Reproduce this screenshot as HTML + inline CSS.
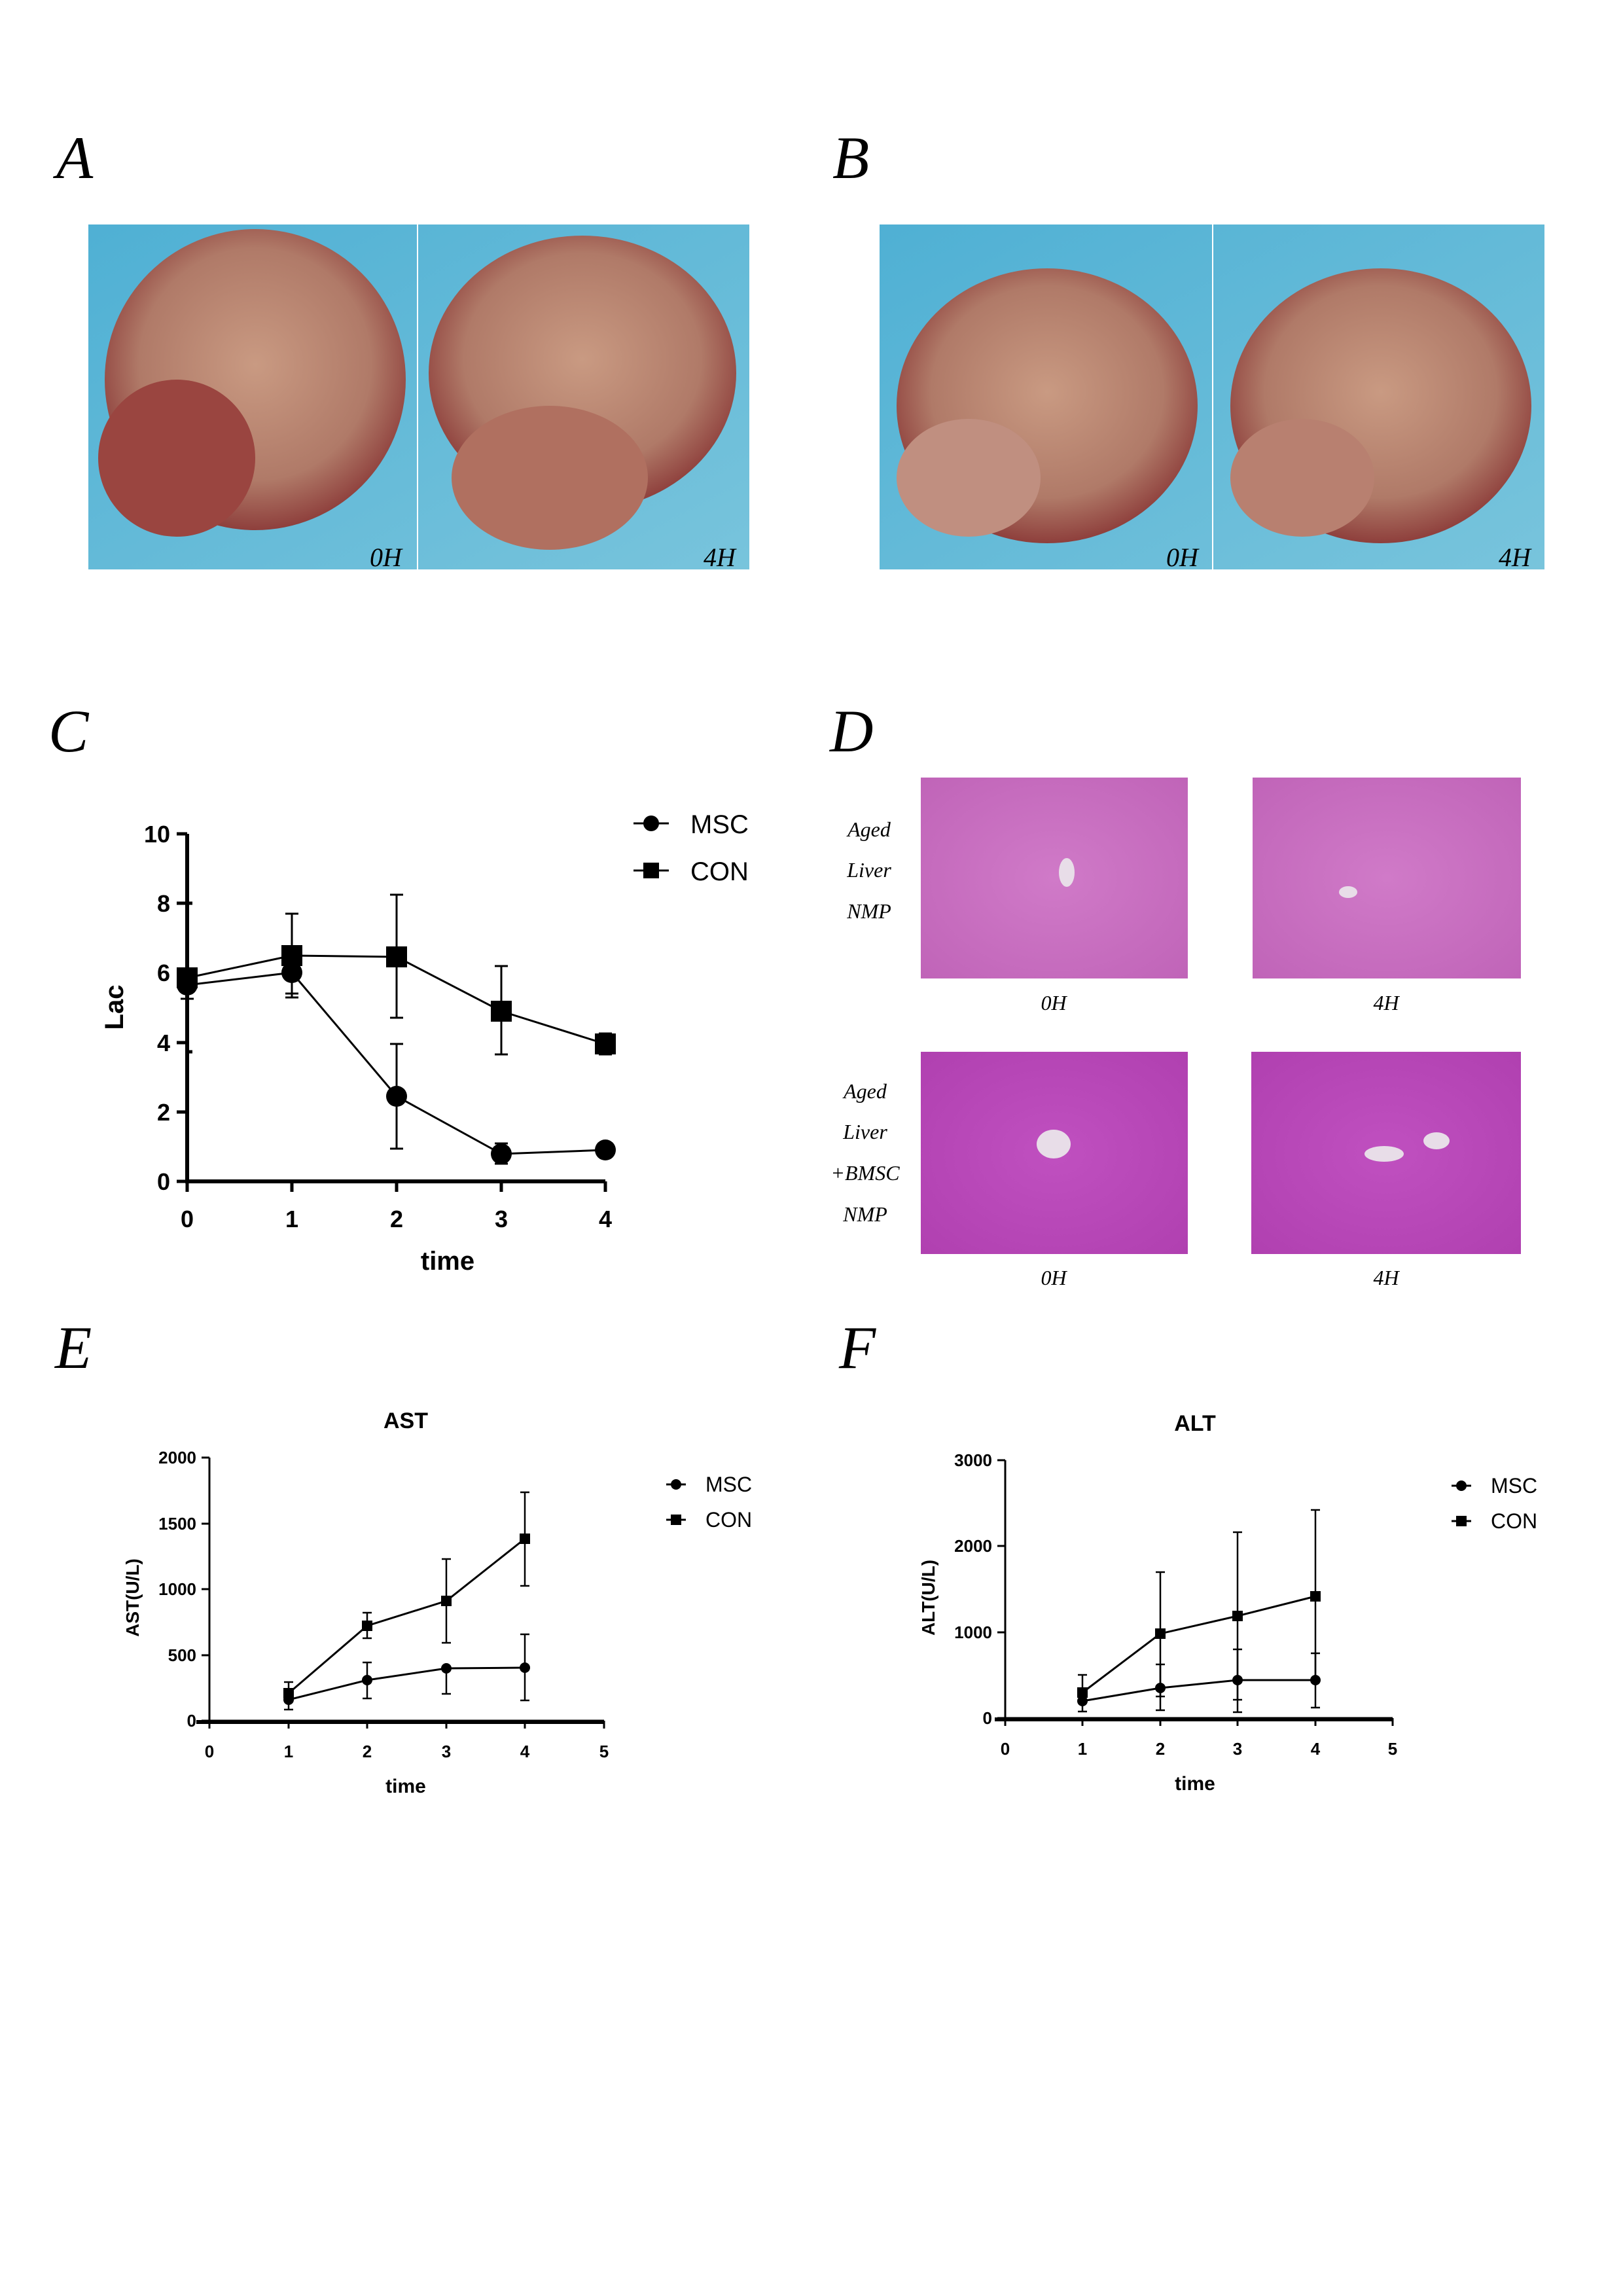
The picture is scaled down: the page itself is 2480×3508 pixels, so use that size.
<!DOCTYPE html>
<html><head><meta charset="utf-8"><style>
html,body{margin:0;padding:0;background:#fff}
svg{display:block}
</style></head><body>
<svg width="2480" height="3508" viewBox="0 0 2480 3508" xmlns="http://www.w3.org/2000/svg">
<defs>
<radialGradient id="liv" cx="50%" cy="45%" r="55%"><stop offset="0" stop-color="#c99a82"/><stop offset="0.7" stop-color="#b07a68"/><stop offset="1" stop-color="#8e3f3c"/></radialGradient>
<linearGradient id="bg" x1="0" y1="0" x2="1" y2="1"><stop offset="0" stop-color="#4fb0d4"/><stop offset="1" stop-color="#78c4dc"/></linearGradient>
<radialGradient id="he1" cx="50%" cy="50%" r="70%"><stop offset="0" stop-color="#d07ac8"/><stop offset="1" stop-color="#c064b8"/></radialGradient>
<radialGradient id="he2" cx="50%" cy="50%" r="70%"><stop offset="0" stop-color="#c050c0"/><stop offset="1" stop-color="#b040b0"/></radialGradient>
</defs>
<g font-family="Liberation Serif, serif" font-style="italic" font-size="92" fill="#000">
<text x="86" y="272">A</text><text x="1272" y="272">B</text>
<text x="74" y="1148">C</text><text x="1268" y="1148">D</text>
<text x="84" y="2090">E</text><text x="1282" y="2090">F</text>
</g>
<!-- photos A -->
<rect x="135" y="343" width="1010" height="527" fill="url(#bg)"/>
<ellipse cx="390" cy="580" rx="230" ry="230" fill="url(#liv)"/>
<ellipse cx="270" cy="700" rx="120" ry="120" fill="#9a4540"/>
<ellipse cx="890" cy="570" rx="235" ry="210" fill="url(#liv)"/>
<ellipse cx="840" cy="730" rx="150" ry="110" fill="#b07060"/>
<line x1="638" y1="343" x2="638" y2="870" stroke="#fff" stroke-width="2"/>
<!-- photos B -->
<rect x="1344" y="343" width="1016" height="527" fill="url(#bg)"/>
<ellipse cx="1600" cy="620" rx="230" ry="210" fill="url(#liv)"/>
<ellipse cx="1480" cy="730" rx="110" ry="90" fill="#c08f80"/>
<ellipse cx="2110" cy="620" rx="230" ry="210" fill="url(#liv)"/>
<ellipse cx="1990" cy="730" rx="110" ry="90" fill="#b88070"/>
<line x1="1853" y1="343" x2="1853" y2="870" stroke="#fff" stroke-width="2"/>
<g font-family="Liberation Serif, serif" font-style="italic" font-size="40" fill="#000">
<text x="565" y="865">0H</text><text x="1075" y="865">4H</text>
<text x="1782" y="865">0H</text><text x="2290" y="865">4H</text>
</g>
<!-- histology D -->
<rect x="1407" y="1188" width="408" height="307" fill="url(#he1)"/>
<rect x="1914" y="1188" width="410" height="307" fill="url(#he1)"/>
<rect x="1407" y="1607" width="408" height="309" fill="url(#he2)"/>
<rect x="1912" y="1607" width="412" height="309" fill="url(#he2)"/>
<ellipse cx="1630" cy="1333" rx="12" ry="22" fill="#e8dde8"/>
<ellipse cx="2060" cy="1363" rx="14" ry="9" fill="#e8dde8"/>
<ellipse cx="1610" cy="1748" rx="26" ry="22" fill="#e8dde8"/>
<ellipse cx="2115" cy="1763" rx="30" ry="12" fill="#e8dde8"/>
<ellipse cx="2195" cy="1743" rx="20" ry="13" fill="#e8dde8"/>
<g font-family="Liberation Serif, serif" font-style="italic" font-size="32" fill="#000" text-anchor="middle">
<text x="1328" y="1278">Aged</text><text x="1328" y="1340">Liver</text><text x="1328" y="1403">NMP</text>
<text x="1322" y="1678">Aged</text><text x="1322" y="1740">Liver</text><text x="1322" y="1803">+BMSC</text><text x="1322" y="1866">NMP</text>
<text x="1610" y="1543">0H</text><text x="2118" y="1543">4H</text>
<text x="1610" y="1963">0H</text><text x="2118" y="1963">4H</text>
</g>
<!-- Chart C -->
<g stroke="#000" fill="none">
<path d="M286 1274 V1805 H925" stroke-width="6"/>
<g stroke-width="5">
<line x1="270" y1="1274" x2="286" y2="1274"/><line x1="270" y1="1380" x2="286" y2="1380"/>
<line x1="270" y1="1486" x2="286" y2="1486"/><line x1="270" y1="1593" x2="286" y2="1593"/>
<line x1="270" y1="1699" x2="286" y2="1699"/><line x1="270" y1="1805" x2="286" y2="1805"/>
<line x1="286" y1="1380" x2="294" y2="1380"/><line x1="286" y1="1607" x2="294" y2="1607"/>
<line x1="286" y1="1805" x2="286" y2="1821"/><line x1="446" y1="1805" x2="446" y2="1821"/>
<line x1="606" y1="1805" x2="606" y2="1821"/><line x1="766" y1="1805" x2="766" y2="1821"/>
<line x1="925" y1="1805" x2="925" y2="1821"/>
</g>
<g stroke-width="3">
<polyline points="286,1505 446,1486 606,1675 766,1763 925,1757"/>
<polyline points="286,1494 446,1460 606,1462 766,1545 925,1595"/>
<path d="M446 1460 V1396 M436 1396 H456 M446 1460 V1518 M436 1518 H456"/>
<path d="M606 1462 V1367 M596 1367 H616 M606 1462 V1555 M596 1555 H616"/>
<path d="M766 1545 V1476 M756 1476 H776 M766 1545 V1611 M756 1611 H776"/>
<path d="M925 1595 V1579 M915 1579 H935 M925 1595 V1611 M915 1611 H935"/>
<path d="M606 1675 V1595 M596 1595 H616 M606 1675 V1755 M596 1755 H616"/>
<path d="M766 1763 V1747 M756 1747 H776 M766 1763 V1778 M756 1778 H776"/>
<path d="M286 1505 V1526 M276 1526 H296 M446 1486 V1524 M436 1524 H456"/>
</g>
</g>
<g fill="#000">
<circle cx="286" cy="1505" r="16"/><circle cx="446" cy="1486" r="16"/><circle cx="606" cy="1675" r="16"/><circle cx="766" cy="1763" r="16"/><circle cx="925" cy="1757" r="16"/>
<rect x="270" y="1478" width="32" height="32"/><rect x="430" y="1444" width="32" height="32"/><rect x="590" y="1446" width="32" height="32"/><rect x="750" y="1529" width="32" height="32"/><rect x="909" y="1579" width="32" height="32"/>
</g>
<g font-family="Liberation Sans, sans-serif" font-weight="bold" font-size="36" fill="#000">
<g text-anchor="end"><text x="260" y="1287">10</text><text x="260" y="1393">8</text><text x="260" y="1499">6</text><text x="260" y="1606">4</text><text x="260" y="1712">2</text><text x="260" y="1818">0</text></g>
<g text-anchor="middle"><text x="286" y="1875">0</text><text x="446" y="1875">1</text><text x="606" y="1875">2</text><text x="766" y="1875">3</text><text x="925" y="1875">4</text>
<text x="684" y="1940" font-size="40">time</text></g>
<text transform="translate(188,1539) rotate(-90)" text-anchor="middle" font-size="40">Lac</text>
</g>
<g stroke="#000" stroke-width="3"><line x1="968" y1="1258" x2="1022" y2="1258"/><line x1="968" y1="1330" x2="1022" y2="1330"/></g>
<circle cx="995" cy="1258" r="12"/><rect x="983" y="1318" width="24" height="24"/>
<g font-family="Liberation Sans, sans-serif" font-size="40"><text x="1055" y="1273">MSC</text><text x="1055" y="1345">CON</text></g>

<!-- Chart E -->
<g stroke="#000" fill="none" stroke-width="3">
<path d="M320 2227 V2641 M320 2629 H923"/>
<path d="M308 2227 H320 M308 2328 H320 M308 2428 H320 M308 2529 H320 M308 2629 H320"/>
<path d="M320 2629 V2641 M441 2629 V2641 M561 2629 V2641 M682 2629 V2641 M802 2629 V2641 M923 2629 V2641"/>
<line x1="300" y1="2631" x2="923" y2="2631" stroke-width="6"/>
<polyline points="441,2597 561,2567 682,2549 802,2548"/>
<polyline points="441,2587 561,2484 682,2446 802,2351"/>
<g stroke-width="2.5">
<path d="M441 2580 V2570 M434 2570 H448 M441 2597 V2612 M434 2612 H448"/>
<path d="M561 2484 V2464 M554 2464 H568 M561 2484 V2503 M554 2503 H568"/>
<path d="M561 2567 V2540 M554 2540 H568 M561 2567 V2595 M554 2595 H568"/>
<path d="M682 2446 V2382 M675 2382 H689 M682 2446 V2510 M675 2510 H689"/>
<path d="M682 2549 V2588 M675 2588 H689"/>
<path d="M802 2351 V2280 M795 2280 H809 M802 2351 V2423 M795 2423 H809"/>
<path d="M802 2548 V2497 M795 2497 H809 M802 2548 V2598 M795 2598 H809"/>
</g>
</g>
<g fill="#000">
<circle cx="441" cy="2597" r="8"/><circle cx="561" cy="2567" r="8"/><circle cx="682" cy="2549" r="8"/><circle cx="802" cy="2548" r="8"/>
<rect x="433" y="2579" width="16" height="16"/><rect x="553" y="2476" width="16" height="16"/><rect x="674" y="2438" width="16" height="16"/><rect x="794" y="2343" width="16" height="16"/>
</g>
<g font-family="Liberation Sans, sans-serif" font-weight="bold" font-size="26" fill="#000">
<g text-anchor="end"><text x="300" y="2236">2000</text><text x="300" y="2337">1500</text><text x="300" y="2437">1000</text><text x="300" y="2538">500</text><text x="300" y="2638">0</text></g>
<g text-anchor="middle"><text x="320" y="2685">0</text><text x="441" y="2685">1</text><text x="561" y="2685">2</text><text x="682" y="2685">3</text><text x="802" y="2685">4</text><text x="923" y="2685">5</text>
<text x="620" y="2739" font-size="30">time</text><text x="620" y="2182" font-size="34">AST</text></g>
<text transform="translate(212,2441) rotate(-90)" text-anchor="middle" font-size="28">AST(U/L)</text>
</g>
<g stroke="#000" stroke-width="3"><line x1="1018" y1="2268" x2="1048" y2="2268"/><line x1="1018" y1="2322" x2="1048" y2="2322"/></g>
<circle cx="1033" cy="2268" r="8"/><rect x="1025" y="2314" width="16" height="16"/>
<g font-family="Liberation Sans, sans-serif" font-size="32"><text x="1078" y="2279">MSC</text><text x="1078" y="2333">CON</text></g>

<!-- Chart F -->
<g stroke="#000" fill="none" stroke-width="3">
<path d="M1536 2231 V2637 M1536 2625 H2128"/>
<path d="M1524 2231 H1536 M1524 2362 H1536 M1524 2494 H1536 M1524 2625 H1536"/>
<path d="M1536 2625 V2637 M1654 2625 V2637 M1773 2625 V2637 M1891 2625 V2637 M2010 2625 V2637 M2128 2625 V2637"/>
<line x1="1520" y1="2627" x2="2128" y2="2627" stroke-width="6"/>
<polyline points="1654,2599 1773,2579 1891,2567 2010,2567"/>
<polyline points="1654,2586 1773,2496 1891,2469 2010,2439"/>
<g stroke-width="2.5">
<path d="M1654 2586 V2559 M1647 2559 H1661 M1654 2599 V2615 M1647 2615 H1661"/>
<path d="M1773 2496 V2402 M1766 2402 H1780 M1773 2496 V2592 M1766 2592 H1780"/>
<path d="M1773 2579 V2543 M1766 2543 H1780 M1773 2579 V2613 M1766 2613 H1780"/>
<path d="M1891 2469 V2341 M1884 2341 H1898 M1891 2469 V2597 M1884 2597 H1898"/>
<path d="M1891 2567 V2520 M1884 2520 H1898 M1891 2567 V2616 M1884 2616 H1898"/>
<path d="M2010 2439 V2307 M2003 2307 H2017 M2010 2439 V2567 M2003 2567 H2017"/>
<path d="M2010 2567 V2526 M2003 2526 H2017 M2010 2567 V2609 M2003 2609 H2017"/>
</g>
</g>
<g fill="#000">
<circle cx="1654" cy="2599" r="8"/><circle cx="1773" cy="2579" r="8"/><circle cx="1891" cy="2567" r="8"/><circle cx="2010" cy="2567" r="8"/>
<rect x="1646" y="2578" width="16" height="16"/><rect x="1765" y="2488" width="16" height="16"/><rect x="1883" y="2461" width="16" height="16"/><rect x="2002" y="2431" width="16" height="16"/>
</g>
<g font-family="Liberation Sans, sans-serif" font-weight="bold" font-size="26" fill="#000">
<g text-anchor="end"><text x="1516" y="2240">3000</text><text x="1516" y="2371">2000</text><text x="1516" y="2503">1000</text><text x="1516" y="2634">0</text></g>
<g text-anchor="middle"><text x="1536" y="2681">0</text><text x="1654" y="2681">1</text><text x="1773" y="2681">2</text><text x="1891" y="2681">3</text><text x="2010" y="2681">4</text><text x="2128" y="2681">5</text>
<text x="1826" y="2735" font-size="30">time</text><text x="1826" y="2186" font-size="34">ALT</text></g>
<text transform="translate(1428,2441) rotate(-90)" text-anchor="middle" font-size="28">ALT(U/L)</text>
</g>
<g stroke="#000" stroke-width="3"><line x1="2218" y1="2270" x2="2248" y2="2270"/><line x1="2218" y1="2324" x2="2248" y2="2324"/></g>
<circle cx="2233" cy="2270" r="8"/><rect x="2225" y="2316" width="16" height="16"/>
<g font-family="Liberation Sans, sans-serif" font-size="32"><text x="2278" y="2281">MSC</text><text x="2278" y="2335">CON</text></g>
</svg>
</body></html>
